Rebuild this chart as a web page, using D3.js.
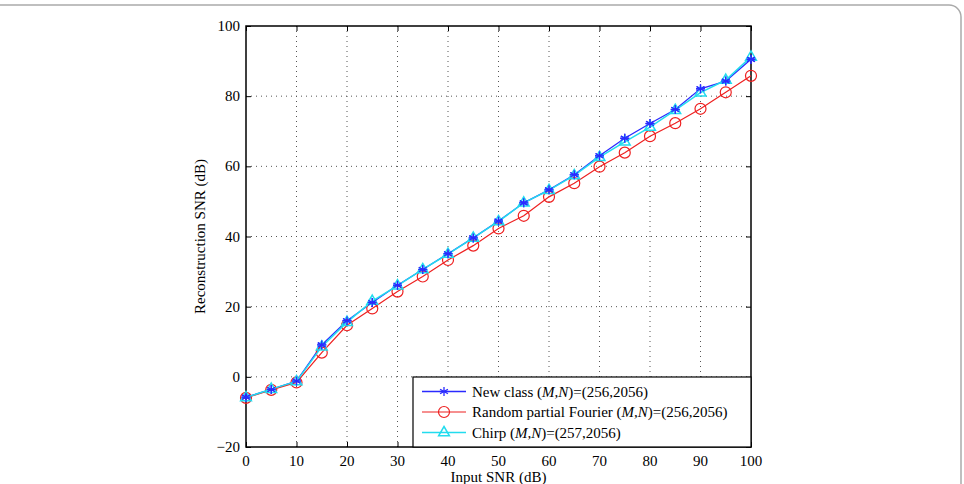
<!DOCTYPE html>
<html>
<head>
<meta charset="utf-8">
<script src="https://d3js.org/d3.v7.min.js"></script>
<style>
  body { margin: 0; background: #fff; }
  svg text { font-family: "Liberation Serif", "Times New Roman", serif; fill: #000; }
</style>
</head>
<body>
<svg id="chart"></svg>
<script>
// input SNR values (dB)
const inputSNR = [0, 5, 10, 15, 20, 25, 30, 35, 40, 45, 50, 55, 60, 65, 70, 75, 80, 85, 90, 95, 100];
// reconstruction SNR for each matrix class
const newClass = [-5.8, -3.6, -1.2, 9.1, 16.0, 21.2, 26.1, 30.6, 35.1, 39.6, 44.4, 49.6, 53.3, 57.6, 63.0, 68.0, 72.2, 76.2, 82.1, 84.3, 90.5];
const randomFourier = [-6.0, -3.7, -1.6, 6.9, 14.7, 19.5, 24.3, 28.6, 33.3, 37.4, 42.3, 45.9, 51.3, 55.2, 59.9, 63.9, 68.6, 72.3, 76.4, 81.1, 85.8];
const chirp = [-5.9, -3.5, -1.3, 8.6, 15.6, 21.6, 26.0, 30.6, 35.0, 39.6, 44.3, 49.6, 53.2, 57.4, 62.6, 67.0, 71.2, 76.0, 81.0, 84.6, 91.2];
const xTicks = [0, 10, 20, 30, 40, 50, 60, 70, 80, 90, 100];
const yTicks = [-20, 0, 20, 40, 60, 80, 100];
const legendLabels = [
  ["New class (", "M,N", ")=(256,2056)"],
  ["Random partial Fourier (", "M,N", ")=(256,2056)"],
  ["Chirp (", "M,N", ")=(257,2056)"]
];

const width = 964, height = 484;
const margin = { top: 26, right: 213, bottom: 37, left: 246 };
const fs = 15;

const svg = d3.select("#chart").attr("width", width).attr("height", height);

// page frame
svg.append("rect")
  .attr("x", -20).attr("y", 5).attr("width", 981).attr("height", 520)
  .attr("rx", 12)
  .attr("fill", "none").attr("stroke", "#aaa").attr("stroke-width", 1.5);

const x = d3.scaleLinear().domain([0, 100]).range([margin.left, width - margin.right]);
const y = d3.scaleLinear().domain([-20, 100]).range([height - margin.bottom, margin.top]);

const x0 = x(0), x1 = x(100), y0 = y(-20), y1 = y(100);

// dotted grid
svg.append("g").selectAll("line").data(xTicks.slice(1, -1)).join("line")
  .attr("x1", d => x(d)).attr("x2", d => x(d)).attr("y1", y0).attr("y2", y1)
  .attr("stroke", "#555").attr("stroke-width", 1).attr("stroke-dasharray", "1,4");
svg.append("g").selectAll("line").data(yTicks.slice(1, -1)).join("line")
  .attr("x1", x0).attr("x2", x1).attr("y1", d => y(d)).attr("y2", d => y(d))
  .attr("stroke", "#555").attr("stroke-width", 1).attr("stroke-dasharray", "1,4");

// axes with inward ticks
const xAxis = svg.append("g").attr("transform", `translate(0,${y0})`)
  .call(d3.axisTop(x).tickValues(xTicks).tickSize(5).tickFormat(""));
const xAxisTop = svg.append("g").attr("transform", `translate(0,${y1})`)
  .call(d3.axisBottom(x).tickValues(xTicks).tickSize(5).tickFormat(""));
const yAxis = svg.append("g").attr("transform", `translate(${x0},0)`)
  .call(d3.axisRight(y).tickValues(yTicks).tickSize(5).tickFormat(""));
const yAxisR = svg.append("g").attr("transform", `translate(${x1},0)`)
  .call(d3.axisLeft(y).tickValues(yTicks).tickSize(5).tickFormat(""));
[xAxis, xAxisTop, yAxis, yAxisR].forEach(g => {
  g.select(".domain").remove();
  g.selectAll("line").attr("stroke", "#000");
});

// tick labels
svg.append("g").selectAll("text").data(xTicks).join("text")
  .attr("x", d => x(d)).attr("y", y0 + 19)
  .attr("text-anchor", "middle").attr("font-size", fs)
  .text(d => d);
svg.append("g").selectAll("text").data(yTicks).join("text")
  .attr("x", x0 - 6).attr("y", d => y(d) + 5)
  .attr("text-anchor", "end").attr("font-size", fs)
  .text(d => d < 0 ? "\u2212" + Math.abs(d) : d);

// box
svg.append("rect")
  .attr("x", x0).attr("y", y1).attr("width", x1 - x0).attr("height", y0 - y1)
  .attr("fill", "none").attr("stroke", "#000").attr("stroke-width", 1.5);

// axis titles
svg.append("text").attr("x", (x0 + x1) / 2).attr("y", 482)
  .attr("text-anchor", "middle").attr("font-size", fs).text("Input SNR (dB)");
svg.append("text")
  .attr("transform", `translate(205,${(y0 + y1) / 2}) rotate(-90)`)
  .attr("text-anchor", "middle").attr("font-size", fs).text("Reconstruction SNR (dB)");

const line = d3.line().x((d, i) => x(inputSNR[i])).y(d => y(d));

const colors = { blue: "#2a2aff", red: "#ee2020", cyan: "#22dcee" };

function star(g, cx, cy, c) {
  const r = 4.5;
  [0, 60, 120].forEach(a => {
    const rad = a * Math.PI / 180;
    g.append("line")
      .attr("x1", cx - r * Math.sin(rad)).attr("y1", cy - r * Math.cos(rad))
      .attr("x2", cx + r * Math.sin(rad)).attr("y2", cy + r * Math.cos(rad))
      .attr("stroke", c).attr("stroke-width", 1.3);
  });
  g.append("line").attr("x1", cx - r).attr("x2", cx + r).attr("y1", cy).attr("y2", cy)
    .attr("stroke", c).attr("stroke-width", 1.3);
}
function circle(g, cx, cy, c) {
  g.append("circle").attr("cx", cx).attr("cy", cy).attr("r", 5.5)
    .attr("fill", "none").attr("stroke", c).attr("stroke-width", 1.2);
}
function tri(g, cx, cy, c) {
  const r = 6;
  g.append("path")
    .attr("d", `M${cx},${cy - r}L${cx + r * 0.9},${cy + r * 0.55}L${cx - r * 0.9},${cy + r * 0.55}Z`)
    .attr("fill", "none").attr("stroke", c).attr("stroke-width", 1.5);
}

const series = [
  { data: newClass, color: colors.blue, marker: star, w: 1.3 },
  { data: randomFourier, color: colors.red, marker: circle, w: 1.2 },
  { data: chirp, color: colors.cyan, marker: tri, w: 1.5 }
];

series.forEach(s => {
  const g = svg.append("g");
  g.append("path").datum(s.data).attr("d", line)
    .attr("fill", "none").attr("stroke", s.color).attr("stroke-width", s.w);
  s.data.forEach((v, i) => s.marker(g, x(inputSNR[i]), y(v), s.color));
});
// stars stay visible inside hollow triangles
const starLayer = svg.append("g");
newClass.forEach((v, i) => star(starLayer, x(inputSNR[i]), y(v), colors.blue));

// legend
const lg = svg.append("g");
lg.append("rect").attr("x", 413).attr("y", 377).attr("width", x1 - 413).attr("height", y0 - 377)
  .attr("fill", "#fff").attr("stroke", "#000").attr("stroke-width", 1.2);
const legendSeries = [
  { color: colors.blue, marker: star, w: 1.3 },
  { color: colors.red, marker: circle, w: 1.2 },
  { color: colors.cyan, marker: tri, w: 1.5 }
];
legendSeries.forEach((s, i) => {
  const ly = 391.5 + i * 20.5;
  lg.append("line").attr("x1", 422).attr("x2", 466).attr("y1", ly).attr("y2", ly)
    .attr("stroke", s.color).attr("stroke-width", s.w);
  s.marker(lg, 444, ly, s.color);
  const t = lg.append("text").attr("x", 472).attr("y", ly + 5).attr("font-size", fs);
  t.append("tspan").text(legendLabels[i][0]);
  t.append("tspan").attr("font-style", "italic").text(legendLabels[i][1]);
  t.append("tspan").text(legendLabels[i][2]);
});
</script>
</body>
</html>
